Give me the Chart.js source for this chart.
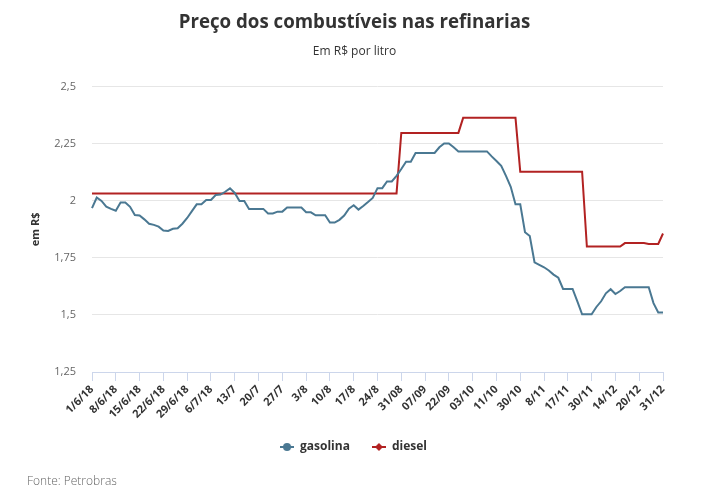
<!DOCTYPE html>
<html>
<head>
<meta charset="utf-8">
<script src="https://cdn.jsdelivr.net/npm/chart.js@4.4.0/dist/chart.umd.min.js"></script>
<style>
  html, body { margin: 0; padding: 0; background: #fff; }
</style>
</head>
<body>
<canvas id="chart" width="713" height="497"></canvas>
<script>
// tick labels, one every 5 points
const tickLabels = ['1/6/18', '8/6/18', '15/6/18', '22/6/18', '29/6/18', '6/7/18', '13/7', '20/7', '27/7',
  '3/8', '10/8', '17/8', '24/8', '31/08', '07/09', '22/09', '03/10', '11/10', '30/10', '8/11', '17/11',
  '30/11', '14/12', '20/12', '31/12'];

const gasolina = [
  1.968, 2.015, 2.000, 1.975, 1.965, 1.957, 1.993, 1.993, 1.974, 1.938,
  1.936, 1.919, 1.900, 1.895, 1.887, 1.870, 1.868, 1.878, 1.880, 1.900,
  1.925, 1.955, 1.985, 1.985, 2.004, 2.004, 2.026, 2.028, 2.040, 2.055,
  2.035, 2.000, 2.000, 1.965, 1.965, 1.965, 1.965, 1.945, 1.945, 1.953,
  1.953, 1.971, 1.971, 1.971, 1.971, 1.950, 1.950, 1.937, 1.937, 1.937,
  1.905, 1.905, 1.917, 1.936, 1.966, 1.981, 1.962, 1.978, 1.995, 2.013,
  2.056, 2.056, 2.085, 2.085, 2.110, 2.140, 2.172, 2.172, 2.210, 2.210,
  2.210, 2.210, 2.210, 2.235, 2.252, 2.252, 2.235, 2.217, 2.217, 2.217,
  2.217, 2.217, 2.217, 2.217, 2.195, 2.175, 2.154, 2.110, 2.062, 1.985,
  1.985, 1.863, 1.846, 1.731, 1.720, 1.709, 1.695, 1.677, 1.663, 1.614,
  1.614, 1.614, 1.560, 1.503, 1.503, 1.503, 1.535, 1.560, 1.595, 1.613,
  1.592, 1.605, 1.622, 1.622, 1.622, 1.622, 1.622, 1.622, 1.552, 1.511,
  1.511
];

const diesel = [
  2.033, 2.033, 2.033, 2.033, 2.033, 2.033, 2.033, 2.033, 2.033, 2.033,
  2.033, 2.033, 2.033, 2.033, 2.033, 2.033, 2.033, 2.033, 2.033, 2.033,
  2.033, 2.033, 2.033, 2.033, 2.033, 2.033, 2.033, 2.033, 2.033, 2.033,
  2.033, 2.033, 2.033, 2.033, 2.033, 2.033, 2.033, 2.033, 2.033, 2.033,
  2.033, 2.033, 2.033, 2.033, 2.033, 2.033, 2.033, 2.033, 2.033, 2.033,
  2.033, 2.033, 2.033, 2.033, 2.033, 2.033, 2.033, 2.033, 2.033, 2.033,
  2.033, 2.033, 2.033, 2.033, 2.033, 2.298, 2.298, 2.298, 2.298, 2.298,
  2.298, 2.298, 2.298, 2.298, 2.298, 2.298, 2.298, 2.298, 2.364, 2.364,
  2.364, 2.364, 2.364, 2.364, 2.364, 2.364, 2.364, 2.364, 2.364, 2.364,
  2.128, 2.128, 2.128, 2.128, 2.128, 2.128, 2.128, 2.128, 2.128, 2.128,
  2.128, 2.128, 2.128, 2.128, 1.800, 1.800, 1.800, 1.800, 1.800, 1.800,
  1.800, 1.800, 1.815, 1.815, 1.815, 1.815, 1.815, 1.811, 1.811, 1.811,
  1.857
];

const blue = '#4a7892';
const red = '#b22222';

// full category list, only every 5th point has a label
const labels = gasolina.map((v, i) => (i % 5 === 0 ? tickLabels[i / 5] : ''));

// legend symbol: short line with a marker on it
function legendIcon(color, shape) {
  const c = document.createElement('canvas');
  c.width = 14; c.height = 10;
  const g = c.getContext('2d');
  g.strokeStyle = color; g.fillStyle = color; g.lineWidth = 2;
  g.beginPath(); g.moveTo(0, 5); g.lineTo(14, 5); g.stroke();
  g.beginPath();
  if (shape === 'circle') {
    g.arc(7, 5, 4, 0, Math.PI * 2);
  } else {
    g.moveTo(7, 1); g.lineTo(11, 5); g.lineTo(7, 9); g.lineTo(3, 5); g.closePath();
  }
  g.fill();
  return c;
}
const icons = [legendIcon(blue, 'circle'), legendIcon(red, 'diamond')];

Chart.defaults.font.family = "'Open Sans', sans-serif";

const extras = {
  id: 'extras',
  afterLayout(chart) {
    // center title/subtitle on the page, nudge legend
    chart.boxes.forEach((b) => {
      if (b.position === 'top') { b.left += 13; b.right += 13; }
    });
    chart.legend.left += 12;
    chart.legend.right += 12;
  },
  afterDraw(chart) {
    const ctx = chart.ctx;
    ctx.save();
    ctx.font = "300 12px 'Open Sans', sans-serif";
    ctx.fillStyle = '#666';
    ctx.textBaseline = 'middle';
    ctx.fillText('Fonte: Petrobras', 27, 482);
    ctx.restore();
  }
};

new Chart(document.getElementById('chart'), {
  type: 'line',
  data: {
    labels: labels,
    datasets: [
      { label: 'gasolina', data: gasolina, borderColor: blue, backgroundColor: blue, borderWidth: 2, pointRadius: 0, tension: 0 },
      { label: 'diesel', data: diesel, borderColor: red, backgroundColor: red, borderWidth: 2, pointRadius: 0, tension: 0 }
    ]
  },
  plugins: [extras],
  options: {
    responsive: false,
    animation: false,
    layout: { padding: { left: 20, right: 50, top: 0, bottom: 34 } },
    scales: {
      x: {
        ticks: {
          autoSkip: false,
          minRotation: 45,
          maxRotation: 45,
          padding: 2,
          color: '#333',
          font: { size: 11, weight: 'bold' }
        },
        afterBuildTicks(scale) {
          scale.ticks = scale.ticks.filter((t) => t.value % 5 === 0);
        },
        afterFit(scale) { scale.height = 47; },
        grid: { drawOnChartArea: false, tickLength: 9, color: '#ccd6eb' },
        border: { color: '#ccd6eb' }
      },
      y: {
        min: 1.25,
        max: 2.5,
        ticks: {
          stepSize: 0.25,
          padding: 16,
          color: '#666',
          font: { size: 11 },
          callback: (v) => String(v).replace('.', ',')
        },
        afterFit(scale) { scale.width = 72; },
        title: { display: true, text: 'em R$', color: '#333', font: { size: 11, weight: 'bold' }, padding: { top: 9, bottom: 0 } },
        grid: { color: '#e6e6e6', drawTicks: false },
        border: { display: false }
      }
    },
    plugins: {
      title: {
        display: true,
        text: 'Preço dos combustíveis nas refinarias',
        color: '#333',
        font: { size: 18.7, weight: 'bold' },
        padding: { top: 11, bottom: 6 }
      },
      subtitle: {
        display: true,
        text: 'Em R$ por litro',
        color: '#333',
        font: { size: 12 },
        padding: { top: 5, bottom: 28 }
      },
      legend: {
        position: 'bottom',
        labels: {
          usePointStyle: true,
          pointStyleWidth: 14,
          padding: 22,
          color: '#333',
          font: { size: 12, weight: 'bold' },
          generateLabels(chart) {
            return chart.data.datasets.map((d, i) => ({
              text: d.label,
              pointStyle: icons[i],
              fillStyle: d.borderColor,
              strokeStyle: d.borderColor,
              fontColor: '#333',
              lineWidth: 0,
              datasetIndex: i,
              hidden: !chart.isDatasetVisible(i)
            }));
          }
        }
      },
      tooltip: { enabled: false }
    }
  }
});
</script>
</body>
</html>
